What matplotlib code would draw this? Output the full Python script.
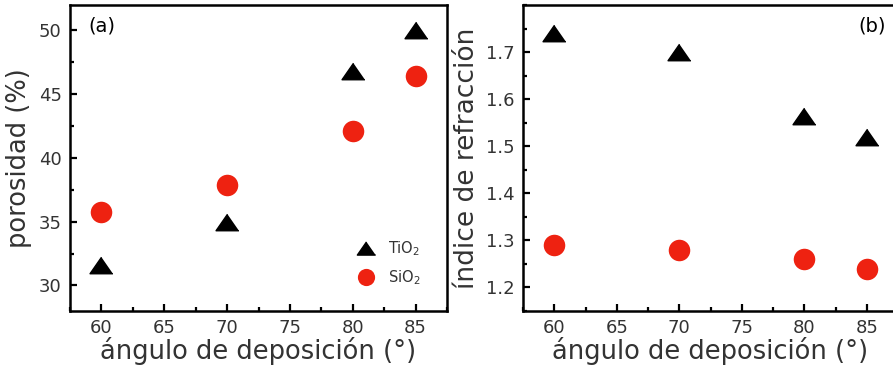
import matplotlib.pyplot as plt
from matplotlib.ticker import MultipleLocator

# deposition angles (degrees)
angles = [60, 70, 80, 85]

# porosity (%)
poro_tio2 = [31.6, 35.0, 46.8, 50.0]
poro_sio2 = [35.8, 37.9, 42.1, 46.4]

# refractive index
n_tio2 = [1.74, 1.70, 1.565, 1.52]
n_sio2 = [1.29, 1.28, 1.26, 1.24]

xticks = [60, 65, 70, 75, 80, 85]

plt.rcParams['font.family'] = ['DejaVu Sans']
txt = '#333333'
tri = [(0, 0.72), (-1, -0.72), (1, -0.72)]

W, H = 893, 377
fig = plt.figure(figsize=(W / 100, H / 100), dpi=100)
ax1 = fig.add_axes([70 / W, (H - 311) / H, 377 / W, 306 / H])
ax2 = fig.add_axes([523 / W, (H - 311) / H, 375 / W, 306 / H])


def style(ax):
    for s in ax.spines.values():
        s.set_linewidth(1.8)
    ax.set_xlim(57.5, 87.5)
    ax.set_xticks(xticks)
    ax.xaxis.set_minor_locator(MultipleLocator(2.5))
    ax.tick_params(which='both', direction='in', top=False, right=False,
                   labelsize=13, labelcolor=txt, width=1.6)
    ax.tick_params(which='major', length=5, pad=6)
    ax.tick_params(which='minor', length=3)
    ax.set_xlabel('ángulo de deposición (°)', fontsize=18.5, color=txt, labelpad=0)


ax1.plot(angles, poro_tio2, ls='none', marker=tri, ms=16.5, color='black', label='TiO$_2$')
ax1.plot(angles, poro_sio2, ls='none', marker='o', ms=15.5, color='#ee2211', mec='none', label='SiO$_2$')
style(ax1)
ax1.set_ylim(28, 52)
ax1.set_yticks([30, 35, 40, 45, 50])
ax1.yaxis.set_minor_locator(MultipleLocator(2.5))
ax1.set_ylabel('porosidad (%)', fontsize=18.5, color=txt, labelpad=5)
ax1.text(0.05, 0.93, '(a)', transform=ax1.transAxes, fontsize=14, color='black',
         ha='left', va='center')
leg = ax1.legend(loc='lower right', bbox_to_anchor=(0.965, 0.035), frameon=False,
                 fontsize=10.5, handletextpad=0.5, labelspacing=0.75, markerscale=0.8)
for t in leg.get_texts():
    t.set_color(txt)

ax2.plot(angles, n_tio2, ls='none', marker=tri, ms=16.5, color='black')
ax2.plot(angles, n_sio2, ls='none', marker='o', ms=15.5, color='#ee2211', mec='none')
style(ax2)
ax2.set_ylim(1.15, 1.8)
ax2.set_yticks([1.2, 1.3, 1.4, 1.5, 1.6, 1.7])
ax2.yaxis.set_minor_locator(MultipleLocator(0.05))
ax2.set_ylabel('índice de refracción', fontsize=19, color=txt, labelpad=4)
ax2.text(0.895, 0.93, '(b)', transform=ax2.transAxes, fontsize=14, color='black',
         ha='left', va='center')

fig.savefig('out.png', dpi=100)
